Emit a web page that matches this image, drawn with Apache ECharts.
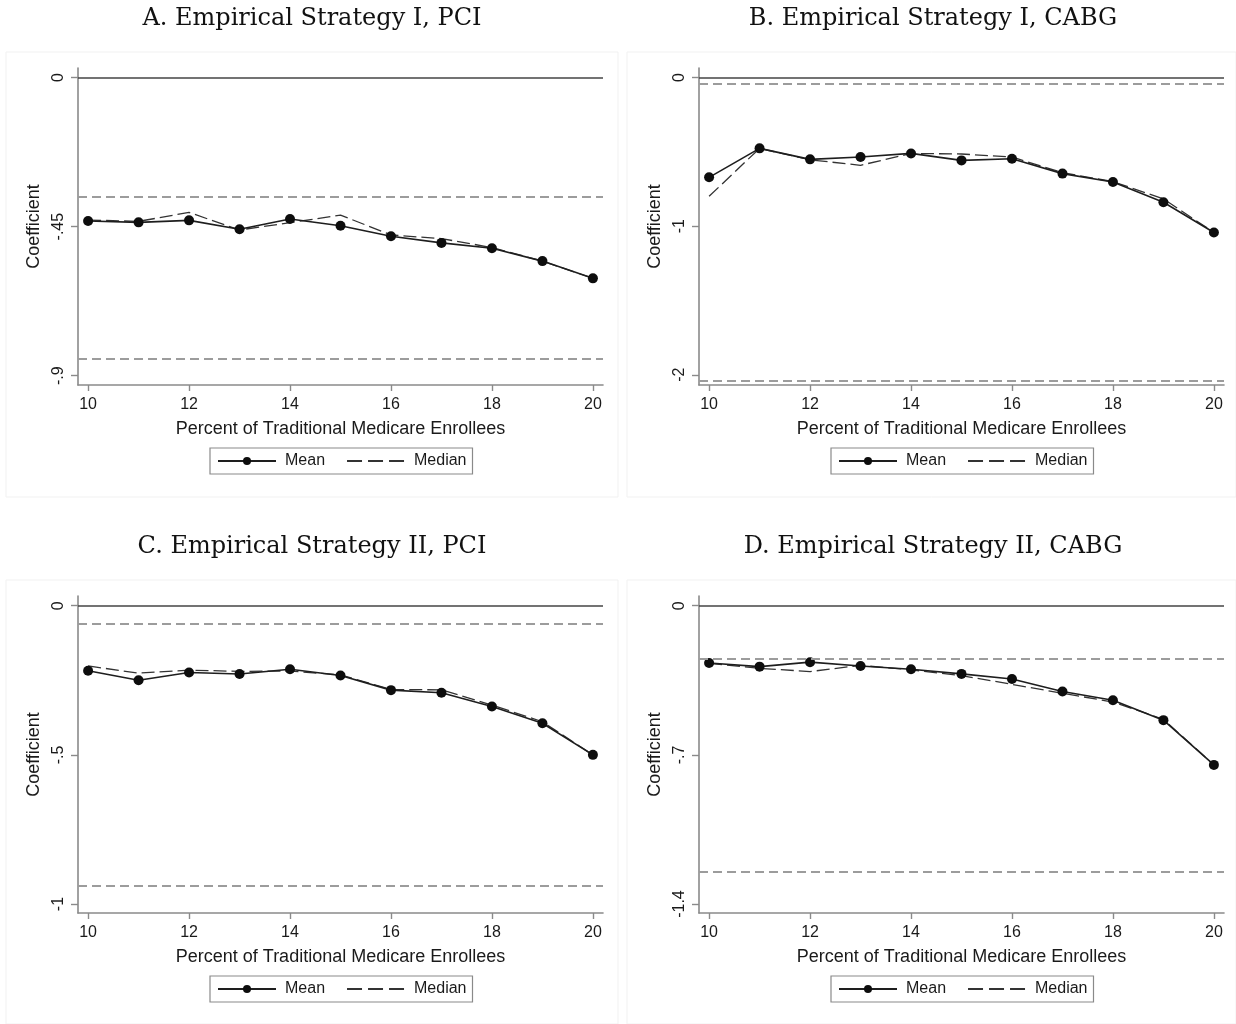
<!DOCTYPE html>
<html>
<head>
<meta charset="utf-8">
<title>Coefficient by Percent of Traditional Medicare Enrollees</title>
<script src="https://cdn.jsdelivr.net/npm/echarts@6/dist/echarts.min.js"></script>
<style>
  html, body { margin: 0; padding: 0; background: #ffffff; }
  #chart { width: 1236px; height: 1024px; }
</style>
</head>
<body>
<div id="chart"></div>
<script>
// Percent of traditional Medicare enrollees (x values shared by all panels)
const pct = [10, 11, 12, 13, 14, 15, 16, 17, 18, 19, 20];
const xTicks = [10, 12, 14, 16, 18, 20];

// A. Empirical Strategy I, PCI
const meanA   = [-0.433, -0.437, -0.431, -0.458, -0.427, -0.447, -0.479, -0.499, -0.515, -0.554, -0.606];
const medianA = [-0.430, -0.434, -0.407, -0.460, -0.438, -0.415, -0.475, -0.486, -0.513, -0.554, -0.606];
const boundsA = [-0.356, -0.855];
const yTicksA = [0, -0.45, -0.9];
const yRangeA = [-0.928, 0.029];

// B. Empirical Strategy I, CABG
const meanB   = [-0.671, -0.476, -0.550, -0.534, -0.510, -0.557, -0.546, -0.646, -0.702, -0.839, -1.042];
const medianB = [-0.799, -0.476, -0.553, -0.590, -0.510, -0.514, -0.534, -0.640, -0.700, -0.816, -1.042];
const boundsB = [-0.044, -2.04];
const yTicksB = [0, -1, -2];
const yRangeB = [-2.069, 0.065];

// C. Empirical Strategy II, PCI
const meanC   = [-0.218, -0.250, -0.224, -0.229, -0.213, -0.234, -0.283, -0.292, -0.338, -0.394, -0.500];
const medianC = [-0.202, -0.226, -0.216, -0.220, -0.219, -0.232, -0.281, -0.282, -0.333, -0.389, -0.500];
const boundsC = [-0.060, -0.935];
const yTicksC = [0, -0.5, -1];
const yRangeC = [-1.030, 0.0325];

// D. Empirical Strategy II, CABG
const meanD   = [-0.269, -0.286, -0.265, -0.283, -0.298, -0.320, -0.344, -0.403, -0.444, -0.537, -0.747];
const medianD = [-0.271, -0.294, -0.309, -0.280, -0.301, -0.328, -0.369, -0.411, -0.452, -0.533, -0.747];
const boundsD = [-0.247, -1.247];
const yTicksD = [0, -0.7, -1.4];
const yRangeD = [-1.442, 0.0455];

const panelTitles = [
  'A. Empirical Strategy I, PCI',
  'B. Empirical Strategy I, CABG',
  'C. Empirical Strategy II, PCI',
  'D. Empirical Strategy II, CABG'
];
const xTitle = 'Percent of Traditional Medicare Enrollees';
const yTitle = 'Coefficient';

const panels = [
  { mean: meanA, median: medianA, bounds: boundsA, ticks: yTicksA, range: yRangeA },
  { mean: meanB, median: medianB, bounds: boundsB, ticks: yTicksB, range: yRangeB },
  { mean: meanC, median: medianC, bounds: boundsC, ticks: yTicksC, range: yRangeC },
  { mean: meanD, median: medianD, bounds: boundsD, ticks: yTicksD, range: yRangeD }
];

// Layout of the 2x2 panel grid
const layout = [
  { left: 78,  top: 68,  frame: [6, 52, 612, 445],   titleX: 312, titleY: 19,  legendLeft: 210, legendTop: 448 },
  { left: 699, top: 68,  frame: [627, 52, 609, 445], titleX: 933, titleY: 19,  legendLeft: 831, legendTop: 448 },
  { left: 78,  top: 596, frame: [6, 580, 612, 444],  titleX: 312, titleY: 547, legendLeft: 210, legendTop: 976 },
  { left: 699, top: 596, frame: [627, 580, 609, 444],titleX: 933, titleY: 547, legendLeft: 831, legendTop: 976 }
];
const plotW = 525, plotH = 317;

const textColor = '#1a1a1a';
const axisColor = '#8a8a8a';
const sans = '"Liberation Sans", Arial, sans-serif';
const serif = '"DejaVu Serif", serif';

// Stata-style tick labels without a leading zero
const fmtY = v => (v === 0 ? '0' : String(v).replace('0.', '.'));

const grids = [], xAxes = [], yAxes = [], series = [], legends = [], graphics = [];

panels.forEach((p, i) => {
  const L = layout[i];
  grids.push({ left: L.left, top: L.top, width: plotW, height: plotH, containLabel: false });

  xAxes.push({
    type: 'value', gridIndex: i, min: 9.8, max: 20.2,
    name: xTitle, nameLocation: 'middle', nameGap: 35,
    nameTextStyle: { fontFamily: sans, fontSize: 18, color: textColor },
    axisLine: { onZero: false, lineStyle: { color: axisColor, width: 1.6 } },
    axisTick: { show: true, length: 6, customValues: xTicks, lineStyle: { color: axisColor, width: 1.4 } },
    axisLabel: { customValues: xTicks, margin: 12, fontFamily: sans, fontSize: 16, color: textColor },
    splitLine: { show: false }
  });

  yAxes.push({
    type: 'value', gridIndex: i, min: p.range[0], max: p.range[1],
    name: yTitle, nameLocation: 'middle', nameGap: 35, nameRotate: 90,
    nameTextStyle: { fontFamily: sans, fontSize: 18, color: textColor },
    axisLine: { onZero: false, lineStyle: { color: axisColor, width: 1.6 } },
    axisTick: { show: true, length: 7, customValues: p.ticks, lineStyle: { color: axisColor, width: 1.4 } },
    axisLabel: { customValues: p.ticks, rotate: 90, margin: 11, formatter: fmtY,
                 fontFamily: sans, fontSize: 16, color: textColor },
    splitLine: { show: false }
  });

  series.push({
    name: 'Mean', type: 'line', xAxisIndex: i, yAxisIndex: i,
    data: pct.map((x, k) => [x, p.mean[k]]),
    symbol: 'circle', symbolSize: 10, showSymbol: true,
    itemStyle: { color: '#0d0d0d' },
    lineStyle: { color: '#1e1e1e', width: 1.6 },
    z: 4,
    markLine: {
      silent: true, symbol: ['none', 'none'], label: { show: false }, animation: false,
      data: [
        { yAxis: 0, lineStyle: { type: 'solid', color: '#444444', width: 1.7 } },
        { yAxis: p.bounds[0], lineStyle: { type: [9, 5], color: '#9c9c9c', width: 1.8 } },
        { yAxis: p.bounds[1], lineStyle: { type: [9, 5], color: '#9c9c9c', width: 1.8 } }
      ]
    }
  });
  series.push({
    name: 'Median', type: 'line', xAxisIndex: i, yAxisIndex: i,
    data: pct.map((x, k) => [x, p.median[k]]),
    symbol: 'none', showSymbol: false,
    itemStyle: { color: '#333333' },
    lineStyle: { color: '#333333', width: 1.3, type: [13, 5] },
    z: 3
  });

  legends.push({
    data: [
      { name: 'Mean' },
      // dashed line only, no marker in the key
      { name: 'Median',
        itemStyle: { color: 'rgba(0,0,0,0)', borderColor: 'rgba(0,0,0,0)', borderWidth: 0 },
        lineStyle: { type: [15, 6] } }
    ],
    left: L.legendLeft, top: L.legendTop,
    orient: 'horizontal', itemWidth: 58, itemHeight: 10, itemGap: 21,
    padding: [5, 6, 5, 7], borderColor: '#8a8a8a', borderWidth: 1.2,
    selectedMode: false,
    textStyle: { fontFamily: sans, fontSize: 16, color: textColor, padding: [0, 0, 0, 4] }
  });

  // faint panel frame
  graphics.push({
    type: 'rect', silent: true, z: -10,
    shape: { x: L.frame[0], y: L.frame[1], width: L.frame[2], height: L.frame[3] },
    style: { fill: 'none', stroke: '#f1f1f1', lineWidth: 1 }
  });
  // panel title
  graphics.push({
    type: 'text', silent: true, x: L.titleX, y: L.titleY,
    style: { text: panelTitles[i], textAlign: 'center', textVerticalAlign: 'middle',
             fontFamily: serif, fontSize: 24, fill: '#111111' }
  });
});

const chart = echarts.init(document.getElementById('chart'), null, { renderer: 'canvas' });
chart.setOption({
  animation: false,
  backgroundColor: '#ffffff',
  grid: grids,
  xAxis: xAxes,
  yAxis: yAxes,
  legend: legends,
  series: series,
  graphic: graphics
});
</script>
</body>
</html>
